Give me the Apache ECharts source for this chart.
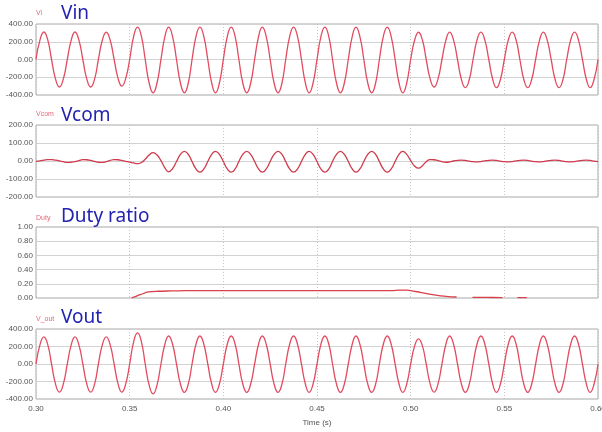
<!DOCTYPE html>
<html>
<head>
<meta charset="utf-8">
<title>Vin / Vcom / Duty / Vout</title>
<script src="https://cdn.jsdelivr.net/npm/echarts@6/dist/echarts.min.js"></script>
<style>
html, body { margin: 0; padding: 0; background: #fff; }
#chart { width: 602px; height: 432px; }
</style>
</head>
<body>
<div id="chart"></div>
<script>
// sample instants (s), 8 per 60 Hz cycle
const time = [
  0.3000,0.3021,0.3042,0.3063,0.3083,0.3104,0.3125,0.3146,0.3167,0.3188,0.3208,0.3229,
  0.3250,0.3271,0.3292,0.3313,0.3333,0.3354,0.3375,0.3396,0.3417,0.3438,0.3458,0.3479,
  0.3500,0.3521,0.3542,0.3563,0.3583,0.3604,0.3625,0.3646,0.3667,0.3688,0.3708,0.3729,
  0.3750,0.3771,0.3792,0.3813,0.3833,0.3854,0.3875,0.3896,0.3917,0.3938,0.3958,0.3979,
  0.4000,0.4021,0.4042,0.4063,0.4083,0.4104,0.4125,0.4146,0.4167,0.4188,0.4208,0.4229,
  0.4250,0.4271,0.4292,0.4313,0.4333,0.4354,0.4375,0.4396,0.4417,0.4438,0.4458,0.4479,
  0.4500,0.4521,0.4542,0.4563,0.4583,0.4604,0.4625,0.4646,0.4667,0.4688,0.4708,0.4729,
  0.4750,0.4771,0.4792,0.4813,0.4833,0.4854,0.4875,0.4896,0.4917,0.4938,0.4958,0.4979,
  0.5000,0.5021,0.5042,0.5063,0.5083,0.5104,0.5125,0.5146,0.5167,0.5188,0.5208,0.5229,
  0.5250,0.5271,0.5292,0.5313,0.5333,0.5354,0.5375,0.5396,0.5417,0.5438,0.5458,0.5479,
  0.5500,0.5521,0.5542,0.5563,0.5583,0.5604,0.5625,0.5646,0.5667,0.5688,0.5708,0.5729,
  0.5750,0.5771,0.5792,0.5813,0.5833,0.5854,0.5875,0.5896,0.5917,0.5938,0.5958,0.5979,
  0.6000
];

// one row per cycle
const vin = [
  0,219,310,219,0,-219,-310,-219,
  0,219,310,219,0,-219,-310,-219,
  0,217,307,217,0,-212,-300,-212,
  0,258,365,258,0,-265,-375,-265,
  0,258,365,258,0,-265,-375,-265,
  0,258,365,258,0,-265,-375,-265,
  0,258,365,258,0,-265,-375,-265,
  0,258,365,258,0,-265,-375,-265,
  0,258,365,258,0,-265,-375,-265,
  0,258,365,258,0,-265,-375,-265,
  0,258,365,258,0,-265,-375,-265,
  0,258,365,258,0,-265,-375,-265,
  0,217,307,217,0,-219,-310,-219,
  0,218,308,218,0,-225,-318,-225,
  0,218,308,218,0,-225,-318,-225,
  0,218,308,218,0,-225,-318,-225,
  0,218,308,218,0,-225,-318,-225,
  0,218,308,218,0,-225,-318,-225,
  0
];

const vcom = [
  -2,1,5,8,8,5,1,-4,
  -8,-7,-4,2,8,7,3,-2,
  -7,-8,-4,3,8,7,3,-2,
  -6,-11,-15,-8,10,33,46,33,
  2,-38,-60,-42,-3,37,54,37,
  -3,-44,-62,-44,-3,37,54,37,
  -3,-44,-62,-44,-3,37,54,37,
  -3,-44,-62,-44,-3,37,54,37,
  -3,-44,-62,-44,-3,37,54,37,
  -3,-44,-62,-44,-3,37,54,37,
  -3,-44,-62,-44,-3,37,54,37,
  -3,-44,-62,-44,-3,37,54,37,
  2,-28,-40,-26,-4,8,7,2,
  -4,-7,-5,0,4,5,3,-1,
  -4,-5,-3,1,4,5,3,-1,
  -4,-5,-3,1,4,5,3,-1,
  -4,-5,-3,1,4,5,3,-1,
  -4,-5,-3,1,4,5,3,-1,
  -4
];

const vout = [
  0,219,310,219,0,-228,-322,-228,
  0,219,310,219,0,-228,-322,-228,
  0,219,310,219,0,-228,-322,-228,
  0,251,355,251,0,-242,-342,-242,
  0,226,320,226,0,-229,-324,-229,
  0,226,320,226,0,-229,-324,-229,
  0,226,320,226,0,-229,-324,-229,
  0,226,320,226,0,-229,-324,-229,
  0,226,320,226,0,-229,-324,-229,
  0,226,320,226,0,-229,-324,-229,
  0,226,320,226,0,-229,-324,-229,
  0,226,320,226,0,-229,-324,-229,
  0,204,288,204,0,-228,-322,-228,
  0,226,320,226,0,-229,-324,-229,
  0,226,320,226,0,-229,-324,-229,
  0,226,320,226,0,-229,-324,-229,
  0,226,320,226,0,-229,-324,-229,
  0,226,320,226,0,-229,-324,-229,
  0
];

const dutyTime = [0.351,0.353,0.356,0.360,0.365,0.372,0.380,0.400,0.450,0.490,0.494,0.498,0.500,0.505,0.510,0.516,0.520,0.5245,0.527,0.533,0.540,0.549,0.552,0.557,0.562];
const duty =     [0,    0.02, 0.05, 0.085,0.095,0.10, 0.105,0.105,0.105,0.105,0.11, 0.11, 0.105,0.08, 0.055,0.03, 0.02, 0.014, null, 0.01, 0.008,0.005,null, 0.005,0.005];

const timeTicks = [0.30, 0.35, 0.40, 0.45, 0.50, 0.55, 0.60];
const voltTicks = [-400, -200, 0, 200, 400];
const vcomTicks = [-200, -100, 0, 100, 200];
const dutyTicks = [0, 0.2, 0.4, 0.6, 0.8, 1.0];

const panelTitles = ['Vin', 'Vcom', 'Duty ratio', 'Vout'];
const panelNames = ['Vi', 'Vcom', 'Duty', 'V_out'];

const tops = [24, 125, 227, 329];
const heights = [71, 72, 71, 70];
const titleTops = [4, 106, 207, 308];
const nameTops = [10, 111, 215, 316];

const labelFont = 'Liberation Sans, Arial, sans-serif';

function pairs(xs, ys) {
  return xs.map((x, i) => [x, ys[i]]);
}

const chart = echarts.init(document.getElementById('chart'));

let titles = [];
for (let i = 0; i < 4; i++) {
  titles.push({
    text: panelTitles[i], left: 61, top: titleTops[i], padding: 0,
    textStyle: { color: '#2323b2', fontSize: 19, fontWeight: 'normal', fontFamily: 'Noto Sans' }
  });
  titles.push({
    text: panelNames[i], left: 36, top: nameTops[i], padding: 0,
    textStyle: { color: '#e2687a', fontSize: 7, fontWeight: 'normal', fontFamily: labelFont }
  });
}

const yTickSets = [voltTicks, vcomTicks, dutyTicks, voltTicks];

let grids = [], xAxes = [], yAxes = [];
for (let i = 0; i < 4; i++) {
  grids.push({
    left: 36, right: 4, top: tops[i], height: heights[i],
    outerBoundsMode: 'none', containLabel: false,
    show: true, borderColor: '#a9a9a9', borderWidth: 1, backgroundColor: '#fff'
  });
  xAxes.push({
    type: 'value', gridIndex: i,
    min: timeTicks[0], max: timeTicks[timeTicks.length - 1],
    interval: timeTicks[1] - timeTicks[0],
    axisLine: { show: false }, axisTick: { show: false },
    axisLabel: {
      show: i === 3, color: '#555', fontSize: 8, fontFamily: labelFont, margin: 6,
      formatter: v => v.toFixed(2)
    },
    splitLine: { show: true, lineStyle: { color: '#c4c4c4', type: [1, 2], width: 1 } },
    name: i === 3 ? 'Time (s)' : '',
    nameLocation: 'middle', nameGap: 20,
    nameTextStyle: { color: '#555', fontSize: 8, fontFamily: labelFont }
  });
  const ticks = yTickSets[i];
  yAxes.push({
    type: 'value', gridIndex: i,
    min: ticks[0], max: ticks[ticks.length - 1], interval: ticks[1] - ticks[0],
    axisLine: { show: false }, axisTick: { show: false },
    axisLabel: {
      color: '#555', fontSize: 8, fontFamily: labelFont, margin: 3,
      formatter: v => v.toFixed(2)
    },
    splitLine: { show: true, lineStyle: { color: '#d2d2d2', width: 1 } }
  });
}

function lineSeries(name, idx, data, color, smooth) {
  return {
    name: name, type: 'line', xAxisIndex: idx, yAxisIndex: idx,
    data: data, showSymbol: false, smooth: smooth,
    lineStyle: { color: color, width: 1.3 },
    connectNulls: false
  };
}

chart.setOption({
  animation: false,
  title: titles,
  grid: grids,
  xAxis: xAxes,
  yAxis: yAxes,
  series: [
    lineSeries('Vi', 0, pairs(time, vin), '#e34b60', 0.5),
    lineSeries('Vcom', 1, pairs(time, vcom), '#cf3a4c', 0.5),
    lineSeries('Duty', 2, pairs(dutyTime, duty), '#d9404c', 0.3),
    lineSeries('V_out', 3, pairs(time, vout), '#e34b60', 0.5)
  ]
});
</script>
</body>
</html>
